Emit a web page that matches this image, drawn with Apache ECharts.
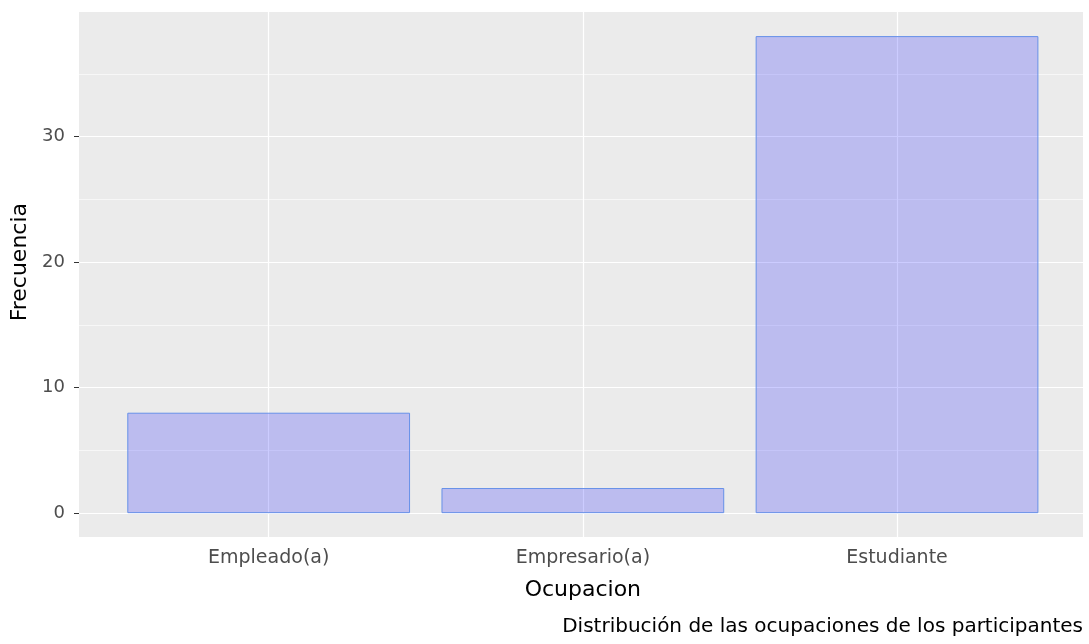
<!DOCTYPE html>
<html>
<head>
<meta charset="utf-8">
<script src="https://cdn.jsdelivr.net/npm/echarts@6/dist/echarts.min.js"></script>
<style>
  html, body { margin: 0; padding: 0; background: #fff; }
  #chart { width: 1089px; height: 644px; }
</style>
</head>
<body>
<div id="chart"></div>
<script>
// data
const categories = ["Empleado(a)", "Empresario(a)", "Estudiante"];
const counts = [8, 2, 38];
const yTickStep = 10;

const font = "'DejaVu Sans', 'Liberation Sans', Arial, sans-serif";
const panelBg = "#EBEBEB";

const chart = echarts.init(document.getElementById("chart"));

const option = {
  animation: false,
  title: {
    text: "Distribución de las ocupaciones de los participantes",
    right: 6,
    bottom: 7,
    padding: 0,
    textStyle: { fontFamily: font, fontSize: 20, fontWeight: "normal", color: "#000" }
  },
  grid: [
    // panel background
    { left: 79, right: 6, top: 11, bottom: 107, show: true, backgroundColor: panelBg, borderWidth: 0 },
    // horizontal grid lines + y labels (0..40)
    { left: 79, right: 6, top: 11, bottom: 130.7 },
    // bars, discrete x
    { left: 111.6, right: 34.9, top: 11, bottom: 107 }
  ],
  xAxis: [
    { gridIndex: 0, type: "value", show: false },
    { gridIndex: 1, type: "value", show: false },
    {
      gridIndex: 2,
      type: "category",
      data: categories,
      name: "Ocupacion",
      nameLocation: "middle",
      nameGap: 42,
      nameTextStyle: { fontFamily: font, fontSize: 22, color: "#000" },
      axisLine: { show: false },
      axisTick: { show: true, alignWithLabel: true, length: 5, lineStyle: { color: "#333", width: 1 } },
      axisLabel: { fontFamily: font, fontSize: 19, color: "#4D4D4D", margin: 12 },
      splitLine: { show: false }
    }
  ],
  yAxis: [
    { gridIndex: 0, type: "value", show: false },
    {
      gridIndex: 1,
      type: "value",
      min: 0,
      max: 40,
      interval: yTickStep,
      name: "Frecuencia",
      nameLocation: "middle",
      nameRotate: 90,
      nameGap: 47,
      nameTextStyle: { fontFamily: font, fontSize: 22, color: "#000" },
      axisLine: { show: false },
      axisTick: { show: true, length: 5, lineStyle: { color: "#333", width: 1 } },
      axisLabel: { fontFamily: font, fontSize: 18, color: "#4D4D4D", margin: 14, showMaxLabel: false },
      splitLine: { show: true, lineStyle: { color: "#fff", width: 1.2 } },
      minorTick: { show: false, splitNumber: 2 },
      minorSplitLine: { show: true, lineStyle: { color: "#fff", width: 0.6 } }
    },
    { gridIndex: 2, type: "value", min: -1.9, max: 40, show: false }
  ],
  series: [
    {
      type: "bar",
      xAxisIndex: 2,
      yAxisIndex: 2,
      data: counts,
      barCategoryGap: "10%",
      itemStyle: {
        color: "rgba(0, 0, 255, 0.2)",
        borderColor: "#6690E8",
        borderWidth: 1
      },
      markLine: {
        silent: true,
        z: 1,
        symbol: "none",
        label: { show: false },
        lineStyle: { color: "#fff", width: 1.2, type: "solid" },
        data: categories.map(function (c) { return { xAxis: c }; })
      }
    }
  ]
};

chart.setOption(option);
</script>
</body>
</html>
